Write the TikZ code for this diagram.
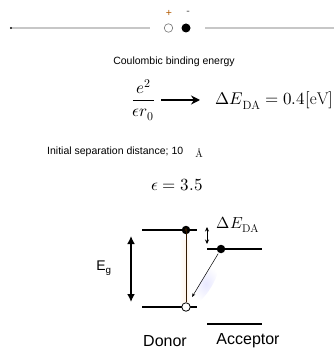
\documentclass[tikz,border=0pt]{standalone}
\usepackage{fontspec}
\setmainfont{Liberation Sans}
\usepackage{unicode-math}
\setmathfont{Latin Modern Math}
\setmathrm{Latin Modern Roman}
\newfontfamily\lmrfont{Latin Modern Roman}
\usetikzlibrary{arrows.meta}
\begin{document}
\begin{tikzpicture}[x=1pt,y=-1pt,
  glin/.style={draw=black!22,line width=1.3pt},
  lvl/.style={draw=black,line width=2.4pt},
  elec/.style={circle,fill=black,inner sep=0pt,minimum size=8.5pt},
  hole/.style={circle,draw=black,fill=white,line width=0.8pt,inner sep=0pt,minimum size=8.5pt},
  telec/.style={circle,fill=black,inner sep=0pt,minimum size=9pt},
  thole/.style={circle,draw=black!55,fill=white,line width=0.6pt,inner sep=0pt,minimum size=8.5pt},
  lbl/.style={font=\fontsize{10.5}{12}\selectfont,inner sep=0pt},
  bigm/.style={font=\fontsize{17}{20}\selectfont,inner sep=0pt},
  big/.style={font=\fontsize{16}{19}\selectfont,inner sep=0pt},
  thin/.style={line width=0.5pt,-{Stealth[length=4pt,width=3pt]}}
]
\useasboundingbox (0,0) rectangle (334,355);
% top line with charges
\node[circle,fill=black,inner sep=0pt,minimum size=2.2pt] (ldot) at (11,28) {};
\coordinate (lend) at (150,28);
\coordinate (rbeg) at (205,28);
\coordinate (rend) at (334,28);
\draw[glin] (ldot) -- (lend);
\draw[glin] (rbeg) -- (rend);
\node[thole] (tp) at (168.5,28) {};
\node[telec] (tn) at (186,28) {};
\node[lbl,text=orange!70!black] (plus) at (169,13) {+};
\node[lbl,text=black!70] (minus) at (188,13) {-};
% texts
\node[lbl] (coul) at (174,62) {Coulombic binding energy};
\node[bigm] (frac) at (143.5,100) {$\dfrac{e^2}{\epsilon r_0}$};
\node[bigm,anchor=base east] (dE) at (333.5,105) {$\Delta E_{\mathrm{DA}} = 0.4[\mathrm{eV}]$};
\draw[line width=2.6pt,-{Stealth[length=9pt,width=9pt]}] ([xshift=6pt]frac.east) -- (200,100);
\node[lbl,anchor=west] (init) at (47,152) {Initial separation distance; 10};
\node[font=\fontsize{10}{12}\selectfont\lmrfont,inner sep=0pt] (ang) at (199,153) {Å};
\node[bigm] (eps) at (177,185) {$\epsilon = 3.5$};
% glows
\shade[left color=white,right color=orange!9] (179,240) rectangle (186,303);
\shade[left color=orange!9,right color=white] (186,240) rectangle (190,303);
\shade[inner color=blue!9,outer color=white,rotate around={59:(206,284)}] (206,284) ellipse (22pt and 6pt);
% energy levels
\coordinate (dt1) at (142,230); \coordinate (dt2) at (197,230);
\coordinate (db1) at (142,307); \coordinate (db2) at (197,307);
\coordinate (at1) at (207,249); \coordinate (at2) at (262,249);
\coordinate (ab1) at (207,324); \coordinate (ab2) at (262,324);
\draw[lvl] (dt1) -- (dt2);
\draw[lvl] (db1) -- (db2);
\draw[lvl] (at1) -- (at2);
\draw[lvl] (ab1) -- (ab2);
\node[elec] (ed) at (186,230) {};
\node[elec] (ea) at (221,249) {};
\node[hole] (h) at (186,307) {};
% arrows
\draw[thin,draw=black!80!orange] (h) -- ([yshift=7pt]ed.south);
\draw[thin] (ea) -- (h) [shorten <=1pt,shorten >=7pt];
\coordinate (g1) at (131,236); \coordinate (g2) at (131,302);
\draw[line width=2.2pt,{Latex[length=8pt,width=8pt]}-{Latex[length=8pt,width=8pt]}] (g1) -- (g2);
\node[font=\fontsize{14}{16}\selectfont,inner sep=0pt] (eg) at (104,268) {E\textsubscript{g}};
\coordinate (s1) at (207,227); \coordinate (s2) at (207,244);
\draw[line width=0.6pt,{Stealth[length=4.5pt,width=4pt]}-{Stealth[length=4.5pt,width=4pt]}] (s1) -- (s2);
\node[big] (dEl) at (238,225) {$\Delta E_{\mathrm{DA}}$};
\node[big] (don) at (165,341) {Donor};
\node[big] (acc) at (248,341) {Acceptor};
\end{tikzpicture}
\end{document}
